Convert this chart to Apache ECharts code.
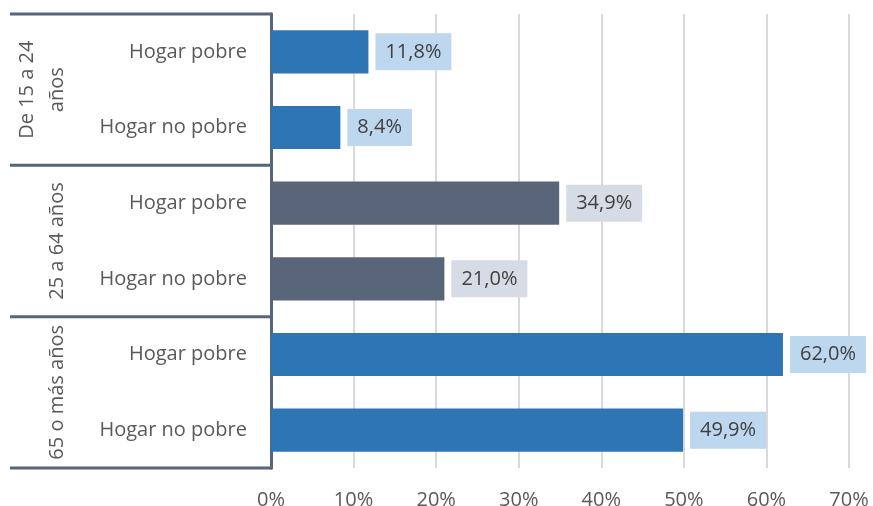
<!DOCTYPE html>
<html>
<head>
    <meta charset="utf-8">
    <title>Hogares por grupo de edad</title>
    <script src="https://cdn.jsdelivr.net/npm/echarts@6/dist/echarts.min.js"></script>
    <style>
        html, body { margin: 0; padding: 0; background: #fff; }
    </style>
</head>
<body>
    <div id="main" style="width:873px;height:506px;"></div>
    <script>
        // datos
        var categorias = ['Hogar pobre', 'Hogar no pobre', 'Hogar pobre', 'Hogar no pobre', 'Hogar pobre', 'Hogar no pobre'];
        var grupos = ['De 15 a 24\naños', '25 a 64 años', '65 o más años'];
        var grupoDeFila = [0, 0, 1, 1, 2, 2];
        var valores = [11.8, 8.4, 34.9, 21.0, 62.0, 49.9];
        var ticksX = [0, 10, 20, 30, 40, 50, 60, 70];

        var colorBarra = ['#2e75b6', '#596679', '#2e75b6'];
        var colorEtiqueta = ['#bdd7ee', '#d6dce5', '#bdd7ee'];
        var colorLinea = '#56657a';
        var fuente = '"Open Sans", sans-serif';

        var myChart = echarts.init(document.getElementById('main'));

        var datos = valores.map(function (v, i) {
            var g = grupoDeFila[i];
            return {
                value: v,
                itemStyle: { color: colorBarra[g] },
                label: { backgroundColor: colorEtiqueta[g] }
            };
        });

        myChart.setOption({
            animation: false,
            grid: { left: 271, right: 24, top: 14, bottom: 38, outerBoundsMode: 'none', containLabel: false },
            xAxis: {
                type: 'value',
                min: ticksX[0],
                max: ticksX[ticksX.length - 1],
                interval: 10,
                axisLine: { show: false },
                axisTick: { show: false },
                splitLine: { lineStyle: { color: '#d9d9d9', width: 2 } },
                axisLabel: {
                    formatter: '{value}%',
                    color: '#595959',
                    fontSize: 20,
                    fontFamily: fuente,
                    margin: 22
                }
            },
            yAxis: {
                type: 'category',
                inverse: true,
                data: categorias.map(function (c, i) { return 'c' + i; }),
                axisLine: { lineStyle: { color: colorLinea, width: 3 } },
                axisTick: { show: false },
                axisLabel: {
                    formatter: function (v, i) { return categorias[i]; },
                    color: '#595959',
                    fontSize: 20,
                    fontFamily: fuente,
                    margin: 24
                }
            },
            series: [{
                type: 'bar',
                data: datos,
                barCategoryGap: '43%',
                label: {
                    show: true,
                    position: 'right',
                    distance: 7,
                    color: '#404040',
                    fontSize: 20,
                    fontFamily: fuente,
                    padding: [9, 10, 8, 10],
                    formatter: function (p) {
                        return p.value.toFixed(1).replace('.', ',') + '%';
                    }
                }
            }]
        });

        // lineas y textos de los grupos de edad
        var graficos = [];
        var paso = myChart.convertToPixel({ yAxisIndex: 0 }, 'c1') - myChart.convertToPixel({ yAxisIndex: 0 }, 'c0');
        var xEje = myChart.convertToPixel({ xAxisIndex: 0 }, 0);
        var limites = [];
        grupos.forEach(function (g, gi) {
            var filas = [];
            grupoDeFila.forEach(function (f, i) { if (f === gi) filas.push(i); });
            var yIni = myChart.convertToPixel({ yAxisIndex: 0 }, 'c' + filas[0]) - paso / 2;
            var yFin = myChart.convertToPixel({ yAxisIndex: 0 }, 'c' + filas[filas.length - 1]) + paso / 2;
            if (gi === 0) limites.push(yIni);
            limites.push(yFin);
            graficos.push({
                type: 'text',
                x: gi === 0 ? 42 : 57,
                y: (yIni + yFin) / 2,
                rotation: Math.PI / 2,
                style: {
                    text: g,
                    fill: '#595959',
                    font: '20px ' + fuente,
                    align: 'center',
                    verticalAlign: 'middle',
                    lineHeight: 30
                }
            });
        });
        limites.forEach(function (y) {
            graficos.push({
                type: 'line',
                shape: { x1: 10, y1: y, x2: xEje + 1.5, y2: y },
                style: { stroke: colorLinea, lineWidth: 3 }
            });
        });
        myChart.setOption({ graphic: graficos });
    </script>
</body>
</html>
